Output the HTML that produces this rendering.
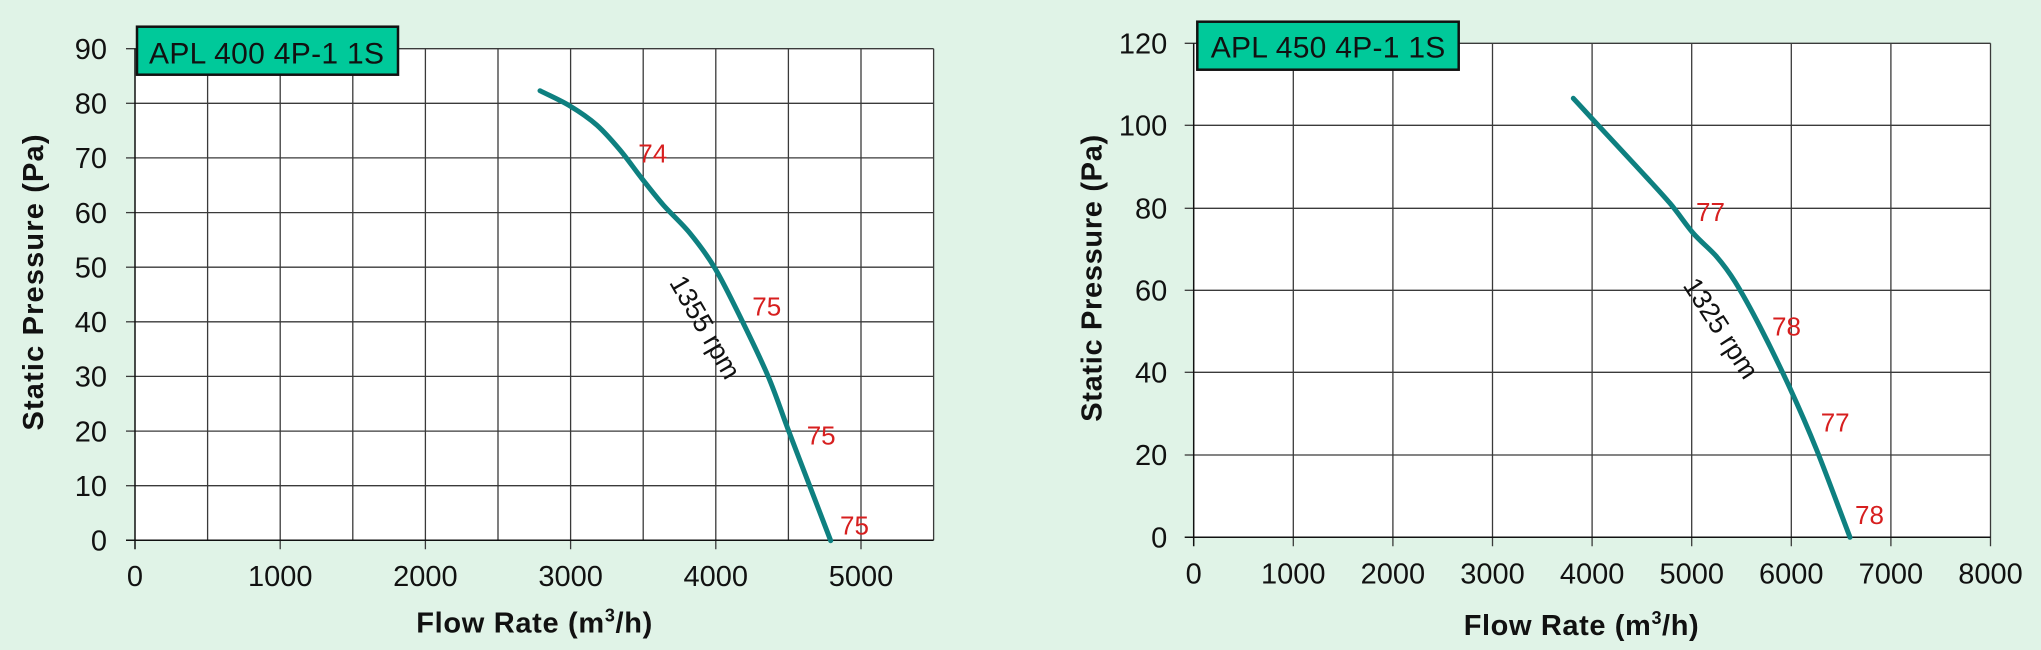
<!DOCTYPE html>
<html>
<head>
<meta charset="utf-8">
<style>
  html,body{margin:0;padding:0;background:#E0F3E7;}
  svg{display:block;}
  text{font-family:"Liberation Sans",Arial,sans-serif;}
</style>
</head>
<body>
<svg width="2041" height="650" viewBox="0 0 2041 650" xmlns="http://www.w3.org/2000/svg">
  <rect x="0" y="0" width="2041" height="650" fill="#E0F3E7"/>

  <!-- ================= LEFT CHART ================= -->
  <rect x="135" y="48.7" width="798.6" height="491.6" fill="#FFFFFF"/>
  <g stroke="#3a3a3a" stroke-width="1.3" fill="none">
    <line x1="135" y1="485.7" x2="933.6" y2="485.7"/>
    <line x1="135" y1="431.1" x2="933.6" y2="431.1"/>
    <line x1="135" y1="376.4" x2="933.6" y2="376.4"/>
    <line x1="135" y1="321.8" x2="933.6" y2="321.8"/>
    <line x1="135" y1="267.2" x2="933.6" y2="267.2"/>
    <line x1="135" y1="212.6" x2="933.6" y2="212.6"/>
    <line x1="135" y1="157.9" x2="933.6" y2="157.9"/>
    <line x1="135" y1="103.3" x2="933.6" y2="103.3"/>
    <line x1="126" y1="48.7" x2="933.6" y2="48.7"/>
    <line x1="207.6" y1="48.7" x2="207.6" y2="540.3"/>
    <line x1="280.2" y1="48.7" x2="280.2" y2="549.3"/>
    <line x1="352.8" y1="48.7" x2="352.8" y2="540.3"/>
    <line x1="425.4" y1="48.7" x2="425.4" y2="549.3"/>
    <line x1="498" y1="48.7" x2="498" y2="540.3"/>
    <line x1="570.6" y1="48.7" x2="570.6" y2="549.3"/>
    <line x1="643.2" y1="48.7" x2="643.2" y2="540.3"/>
    <line x1="715.8" y1="48.7" x2="715.8" y2="549.3"/>
    <line x1="788.4" y1="48.7" x2="788.4" y2="540.3"/>
    <line x1="861" y1="48.7" x2="861" y2="549.3"/>
    <line x1="933.6" y1="48.7" x2="933.6" y2="540.3"/>
    <line x1="126" y1="540.3" x2="135" y2="540.3"/>
    <line x1="126" y1="485.7" x2="135" y2="485.7"/>
    <line x1="126" y1="431.1" x2="135" y2="431.1"/>
    <line x1="126" y1="376.4" x2="135" y2="376.4"/>
    <line x1="126" y1="321.8" x2="135" y2="321.8"/>
    <line x1="126" y1="267.2" x2="135" y2="267.2"/>
    <line x1="126" y1="212.6" x2="135" y2="212.6"/>
    <line x1="126" y1="157.9" x2="135" y2="157.9"/>
    <line x1="126" y1="103.3" x2="135" y2="103.3"/>
  </g>
  <g stroke="#111" stroke-width="1.5">
    <line x1="135" y1="48.7" x2="135" y2="549.3"/>
    <line x1="126" y1="540.3" x2="933.6" y2="540.3"/>
  </g>
  <g font-size="29" fill="#111" text-anchor="end">
    <text x="107" y="550.6">0</text>
    <text x="107" y="496">10</text>
    <text x="107" y="441.4">20</text>
    <text x="107" y="386.7">30</text>
    <text x="107" y="332.1">40</text>
    <text x="107" y="277.5">50</text>
    <text x="107" y="222.9">60</text>
    <text x="107" y="168.2">70</text>
    <text x="107" y="113.6">80</text>
    <text x="107" y="59">90</text>
  </g>
  <g font-size="29" fill="#111" text-anchor="middle">
    <text x="135" y="586">0</text>
    <text x="280.2" y="586">1000</text>
    <text x="425.4" y="586">2000</text>
    <text x="570.6" y="586">3000</text>
    <text x="715.8" y="586">4000</text>
    <text x="861" y="586">5000</text>
  </g>
  <text x="534.3" y="632.7" font-size="29" font-weight="bold" fill="#111" text-anchor="middle" textLength="236" lengthAdjust="spacing">Flow Rate (m<tspan font-size="18" dy="-11">3</tspan><tspan dy="11">/h)</tspan></text>
  <text transform="translate(43,282.5) rotate(-90)" x="0" y="0" font-size="29" font-weight="bold" fill="#111" text-anchor="middle" textLength="296" lengthAdjust="spacing">Static Pressure (Pa)</text>
  <rect x="137" y="26.7" width="261" height="48" fill="#00C99A" stroke="#111" stroke-width="2.5"/>
  <text x="149" y="63.3" font-size="30" fill="#111" textLength="235" lengthAdjust="spacing">APL 400 4P-1 1S</text>
  <path fill="none" stroke="#0E8080" stroke-width="5" stroke-linecap="round" stroke-linejoin="round"
    d="M540,90.7 C550,95.8 560.55,100.28 570,106 C579.45,111.72 588.37,117.67 596.7,125 C605.03,132.33 612.5,141.12 620,150 C627.5,158.88 634.48,169.13 641.7,178.3 C648.92,187.47 655.25,195.83 663.3,205 C671.35,214.17 681.38,222.75 690,233.3 C698.62,243.85 706.38,253.85 715,268.3 C723.62,282.75 732.82,301.93 741.7,320 C750.58,338.07 760.53,358.37 768.3,376.7 C776.07,395.03 781.35,411.67 788.3,430 C795.25,448.33 802.93,468.25 810,486.7 C817.07,505.15 823.8,522.7 830.7,540.7"/>
  <g font-size="26" fill="#D71F1F">
    <text x="638.3" y="162.7">74</text>
    <text x="752.3" y="315.7">75</text>
    <text x="806.7" y="444.3">75</text>
    <text x="840" y="534.3">75</text>
  </g>
  <text transform="translate(705,327.3) rotate(60)" x="0" y="9" font-size="27" fill="#111" text-anchor="middle">1355 rpm</text>

  <!-- ================= RIGHT CHART ================= -->
  <rect x="1193.7" y="43.3" width="796.8" height="494" fill="#FFFFFF"/>
  <g stroke="#3a3a3a" stroke-width="1.3" fill="none">
    <line x1="1193.7" y1="455" x2="1990.5" y2="455"/>
    <line x1="1193.7" y1="372.3" x2="1990.5" y2="372.3"/>
    <line x1="1193.7" y1="290.3" x2="1990.5" y2="290.3"/>
    <line x1="1193.7" y1="208.3" x2="1990.5" y2="208.3"/>
    <line x1="1193.7" y1="125.3" x2="1990.5" y2="125.3"/>
    <line x1="1184.7" y1="43.3" x2="1990.5" y2="43.3"/>
    <line x1="1293.3" y1="43.3" x2="1293.3" y2="546.3"/>
    <line x1="1392.9" y1="43.3" x2="1392.9" y2="546.3"/>
    <line x1="1492.5" y1="43.3" x2="1492.5" y2="546.3"/>
    <line x1="1592.1" y1="43.3" x2="1592.1" y2="546.3"/>
    <line x1="1691.7" y1="43.3" x2="1691.7" y2="546.3"/>
    <line x1="1791.3" y1="43.3" x2="1791.3" y2="546.3"/>
    <line x1="1890.9" y1="43.3" x2="1890.9" y2="546.3"/>
    <line x1="1990.5" y1="43.3" x2="1990.5" y2="546.3"/>
    <line x1="1184.7" y1="455" x2="1193.7" y2="455"/>
    <line x1="1184.7" y1="372.3" x2="1193.7" y2="372.3"/>
    <line x1="1184.7" y1="290.3" x2="1193.7" y2="290.3"/>
    <line x1="1184.7" y1="208.3" x2="1193.7" y2="208.3"/>
    <line x1="1184.7" y1="125.3" x2="1193.7" y2="125.3"/>
  </g>
  <g stroke="#111" stroke-width="1.5">
    <line x1="1193.7" y1="43.3" x2="1193.7" y2="546.3"/>
    <line x1="1184.7" y1="537.3" x2="1990.5" y2="537.3"/>
  </g>
  <g font-size="29" fill="#111" text-anchor="end">
    <text x="1167.3" y="547.3">0</text>
    <text x="1167.3" y="465">20</text>
    <text x="1167.3" y="382.3">40</text>
    <text x="1167.3" y="300.3">60</text>
    <text x="1167.3" y="218.3">80</text>
    <text x="1167.3" y="135.3">100</text>
    <text x="1167.3" y="53.3">120</text>
  </g>
  <g font-size="29" fill="#111" text-anchor="middle">
    <text x="1193.7" y="583.5">0</text>
    <text x="1293.3" y="583.5">1000</text>
    <text x="1392.9" y="583.5">2000</text>
    <text x="1492.5" y="583.5">3000</text>
    <text x="1592.1" y="583.5">4000</text>
    <text x="1691.7" y="583.5">5000</text>
    <text x="1791.3" y="583.5">6000</text>
    <text x="1890.9" y="583.5">7000</text>
    <text x="1990.5" y="583.5">8000</text>
  </g>
  <text x="1581.2" y="635" font-size="29" font-weight="bold" fill="#111" text-anchor="middle" textLength="235" lengthAdjust="spacing">Flow Rate (m<tspan font-size="18" dy="-11">3</tspan><tspan dy="11">/h)</tspan></text>
  <text transform="translate(1101.7,278.3) rotate(-90)" x="0" y="0" font-size="29" font-weight="bold" fill="#111" text-anchor="middle" textLength="287" lengthAdjust="spacing">Static Pressure (Pa)</text>
  <rect x="1197.3" y="21.7" width="261.4" height="48" fill="#00C99A" stroke="#111" stroke-width="2.5"/>
  <text x="1210.7" y="57.3" font-size="30" fill="#111" textLength="234.6" lengthAdjust="spacing">APL 450 4P-1 1S</text>
  <path fill="none" stroke="#0E8080" stroke-width="5" stroke-linecap="round" stroke-linejoin="round"
    d="M1573.3,98.3 C1579.97,105.53 1582.73,108.6 1593.3,120 C1603.87,131.4 1623.92,152.82 1636.7,166.7 C1649.48,180.58 1660.57,192.2 1670,203.3 C1679.43,214.4 1685.52,224.4 1693.3,233.3 C1701.08,242.2 1709.75,248.63 1716.7,256.7 C1723.65,264.77 1727.78,270.03 1735,281.7 C1742.22,293.37 1750.83,308.93 1760,326.7 C1769.17,344.47 1780.55,367.75 1790,388.3 C1799.45,408.85 1806.7,425.17 1816.7,450 C1826.7,474.83 1838.9,508.2 1850,537.3"/>
  <g font-size="26" fill="#D71F1F">
    <text x="1696" y="221">77</text>
    <text x="1772" y="335.7">78</text>
    <text x="1820.7" y="431.7">77</text>
    <text x="1855" y="524">78</text>
  </g>
  <text transform="translate(1720.8,328.3) rotate(57)" x="0" y="9" font-size="27" fill="#111" text-anchor="middle">1325 rpm</text>
</svg>
</body>
</html>
